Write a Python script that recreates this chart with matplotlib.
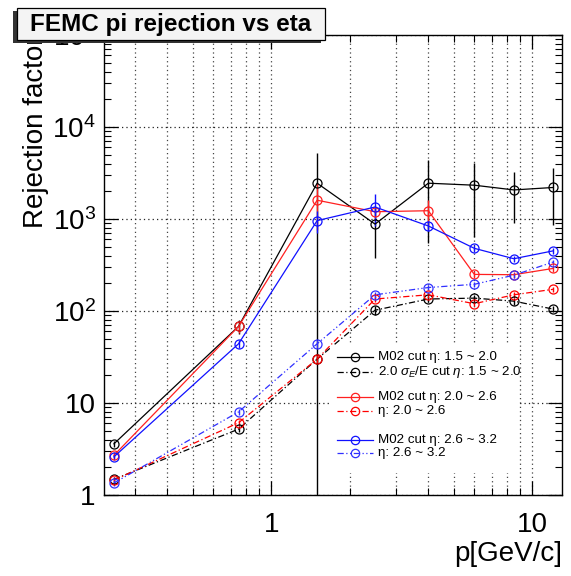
import numpy as np
import matplotlib
matplotlib.use('Agg')
import matplotlib.pyplot as plt
from matplotlib.lines import Line2D
from matplotlib.patches import Rectangle
from matplotlib.ticker import LogLocator, FuncFormatter, NullFormatter

plt.rcParams['font.family'] = ['Liberation Sans', 'DejaVu Sans']
plt.rcParams['mathtext.fontset'] = 'custom'
plt.rcParams['mathtext.rm'] = 'Liberation Sans'
plt.rcParams['mathtext.it'] = 'Liberation Sans:italic'

# momentum bin centres
p = [0.25, 0.75, 1.5, 2.5, 4, 6, 8.5, 12]

# M02 cut (solid)
m02_15 = [3.6, 68, 2450, 880, 2450, 2330, 2070, 2200]
m02_15_err = [0.3, 12, 2750, 500, 1900, 1700, 1170, 1350]
m02_20 = [2.7, 68, 1600, 1200, 1230, 250, 248, 290]
m02_20_err = [0.25, 10, 850, 150, 380, 20, 20, 25]
m02_26 = [2.6, 44, 960, 1350, 840, 480, 370, 450]
m02_26_err = [0.2, 4, 250, 520, 100, 40, 25, 30]

# sigma_E/E cut (dash-dot)
sig_15 = [1.48, 5.2, 30, 102, 135, 138, 128, 105]
sig_15_err = [0.1, 0.4, 3, 12, 10, 12, 12, 8]
sig_20 = [1.45, 6.1, 30, 135, 150, 120, 150, 172]
sig_20_err = [0.1, 0.5, 3, 10, 10, 8, 10, 10]
sig_26 = [1.35, 8.0, 44, 150, 180, 195, 245, 340]
sig_26_err = [0.1, 0.6, 4, 10, 12, 12, 15, 20]

labels = ['M02 cut \u03b7: 1.5 ~ 2.0',
          r'2.0 $\sigma_{E}$/E cut $\eta$: 1.5 ~ 2.0',
          'M02 cut \u03b7: 2.0 ~ 2.6',
          '\u03b7: 2.0 ~ 2.6',
          'M02 cut \u03b7: 2.6 ~ 3.2',
          '\u03b7: 2.6 ~ 3.2']

dashdot = (0, (5, 2, 1, 2))
dashdotdot = (0, (5, 2, 1, 2, 1, 2))

series = [
    (m02_15, m02_15_err, 'black', '-'),
    (sig_15, sig_15_err, 'black', dashdot),
    (m02_20, m02_20_err, '#ff2020', '-'),
    (sig_20, sig_20_err, 'red', dashdot),
    (m02_26, m02_26_err, '#1010ff', '-'),
    (sig_26, sig_26_err, '#3030ff', dashdotdot),
]

W, H = 571, 576
fig = plt.figure(figsize=(W / 100, H / 100), dpi=100)
ax = fig.add_axes([104 / W, 1 - 495 / H, 458 / W, 460 / H])

for y, e, c, ls in series:
    ax.errorbar(p, y, yerr=e, color=c, ls=ls, lw=0.9, marker='o', ms=6.5,
                mfc='none', mec=c, mew=0.9, elinewidth=1.0, capsize=0)

ax.set_xscale('log')
ax.set_yscale('log')
ax.set_xlim(0.229, 13.0)
ax.set_ylim(1, 1e5)

ax.xaxis.set_major_locator(LogLocator(base=10, numticks=10))
ax.xaxis.set_minor_locator(LogLocator(base=10, subs=np.arange(2, 10), numticks=20))
ax.xaxis.set_major_formatter(FuncFormatter(lambda v, pos: '%g' % v))
ax.xaxis.set_minor_formatter(NullFormatter())


def yfmt(v, pos):
    n = int(round(np.log10(v)))
    if n <= 1:
        return '%d' % round(v)
    return r'$10^{%d}$' % n


ax.yaxis.set_major_locator(LogLocator(base=10, numticks=10))
ax.yaxis.set_minor_locator(LogLocator(base=10, subs=np.arange(2, 10), numticks=20))
ax.yaxis.set_major_formatter(FuncFormatter(yfmt))
ax.yaxis.set_minor_formatter(NullFormatter())

ax.tick_params(which='both', direction='in', top=True, right=True, labelsize=20)
ax.tick_params(which='major', length=10, width=0.9)
ax.tick_params(which='minor', length=5, width=0.8)
ax.tick_params(axis='x', which='major', pad=12)
ax.tick_params(axis='y', which='major', pad=6)

gstyle = (0, (1, 2.5))
ax.grid(axis='x', which='both', ls=gstyle, color='#444444', lw=0.9)
ax.grid(axis='y', which='major', ls=gstyle, color='#222222', lw=0.9)
for s in ax.spines.values():
    s.set_linewidth(1.0)

ax.set_xlabel('p[GeV/c]', fontsize=20, loc='right')
ax.xaxis.set_label_coords(1.0, -0.10)
ax.set_ylabel('Rejection factor', fontsize=20, loc='top')
ax.yaxis.set_label_coords(-0.12, 1.0)

# legend drawn by hand: white box without frame, grouped rows
fig.add_artist(Rectangle((330 / W, 1 - 473 / H), 187 / W, 128 / H, transform=fig.transFigure,
                         facecolor='white', edgecolor='none', zorder=1))
rows_y = [357, 372, 397, 411, 440, 453]
for (y, e, c, ls), lab, ry in zip(series, labels, rows_y):
    fy = 1 - ry / H
    fig.add_artist(Line2D([337 / W, 373 / W], [fy, fy], color=c, ls=ls, lw=0.9,
                          transform=fig.transFigure, zorder=2))
    fig.add_artist(Line2D([355 / W], [fy], color=c, marker='o', ms=6, mfc='none',
                          mec=c, mew=0.9, transform=fig.transFigure, zorder=2))
    fig.text(378 / W, fy, lab, fontsize=9.6, va='center', ha='left', zorder=3)

# title box with ROOT-like shadow
sh = Rectangle((13 / W, 1 - 43 / H), 308 / W, 32 / H, transform=fig.transFigure,
               facecolor='#333333', edgecolor='none', zorder=10)
box = Rectangle((17 / W, 1 - 40 / H), 308 / W, 32 / H, transform=fig.transFigure,
                facecolor='#f4f4f4', edgecolor='black', lw=0.9, zorder=11)
fig.add_artist(sh)
fig.add_artist(box)
fig.text(171 / W, 1 - 24 / H, 'FEMC pi rejection vs eta', fontsize=17.5, fontweight='bold',
         ha='center', va='center', zorder=12)

fig.savefig('out.png', dpi=100)
